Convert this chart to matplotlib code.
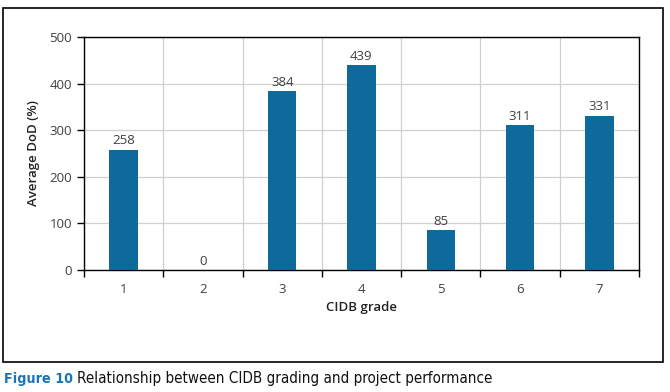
import matplotlib
matplotlib.use("Agg")
import matplotlib.pyplot as plt
from matplotlib.patches import Rectangle

grades = ["1", "2", "3", "4", "5", "6", "7"]
avg_dod = [258, 0, 384, 439, 85, 311, 331]

bar_color = "#0e6a9b"
text_gray = "#404040"

plt.rcParams["font.family"] = ["Open Sans", "DejaVu Sans"]

fig = plt.figure(figsize=(6.7, 3.92), dpi=100)
ax = fig.add_axes([0.1254, 0.3112, 0.8283, 0.5944])

x = list(range(len(grades)))
bars = ax.bar(x, avg_dod, width=0.36, color=bar_color, zorder=3)
for xi, v in zip(x, avg_dod):
    ax.text(xi, v + 5, str(v), ha="center", va="bottom", fontsize=9.5, color=text_gray)

ax.set_xlim(-0.5, len(grades) - 0.5)
ax.set_ylim(0, 500)
ax.set_yticks(range(0, 501, 100))
ax.set_xticks(x)
ax.set_xticklabels(grades)
ax.set_xticks([i - 0.5 for i in range(len(grades) + 1)], minor=True)

ax.grid(True, which="major", axis="y", color="#d0d0d0", linewidth=0.9, zorder=0)
ax.grid(True, which="minor", axis="x", color="#d0d0d0", linewidth=0.9, zorder=0)
ax.tick_params(axis="x", which="major", length=0, pad=9, labelsize=9.5, labelcolor=text_gray)
ax.tick_params(axis="x", which="minor", length=5, width=1, color="black")
ax.tick_params(axis="y", which="major", length=5, width=1, labelsize=9.5, labelcolor=text_gray)
for s in ax.spines.values():
    s.set_color("black")
    s.set_linewidth(1)

ax.set_xlabel("CIDB grade", fontsize=9.5, fontweight="semibold", color="#222222", labelpad=4)
ax.set_ylabel("Average DoD (%)", fontsize=9.5, fontweight="semibold", color="#222222", labelpad=7)

# outer frame around the chart
fig.patches.append(Rectangle((3 / 670, 1 - 362 / 392), 660 / 670, 354 / 392,
                             transform=fig.transFigure, fill=False,
                             edgecolor="black", linewidth=1.2))

cap_font = ["DejaVu Sans"]
t1 = fig.text(4 / 670, 1 - 379 / 392, "Figure 10", fontsize=10.3, fontweight="bold",
              fontstretch="condensed", family=cap_font, color="#1a74b5", va="center")
fig.canvas.draw()
bb = t1.get_window_extent(fig.canvas.get_renderer())
fig.text(bb.x1 / 670 + 4 / 670, 1 - 379 / 392,
         "Relationship between CIDB grading and project performance",
         fontsize=10.9, fontstretch="condensed", family=cap_font, color="#111111", va="center")

fig.savefig("out.png", dpi=100)
